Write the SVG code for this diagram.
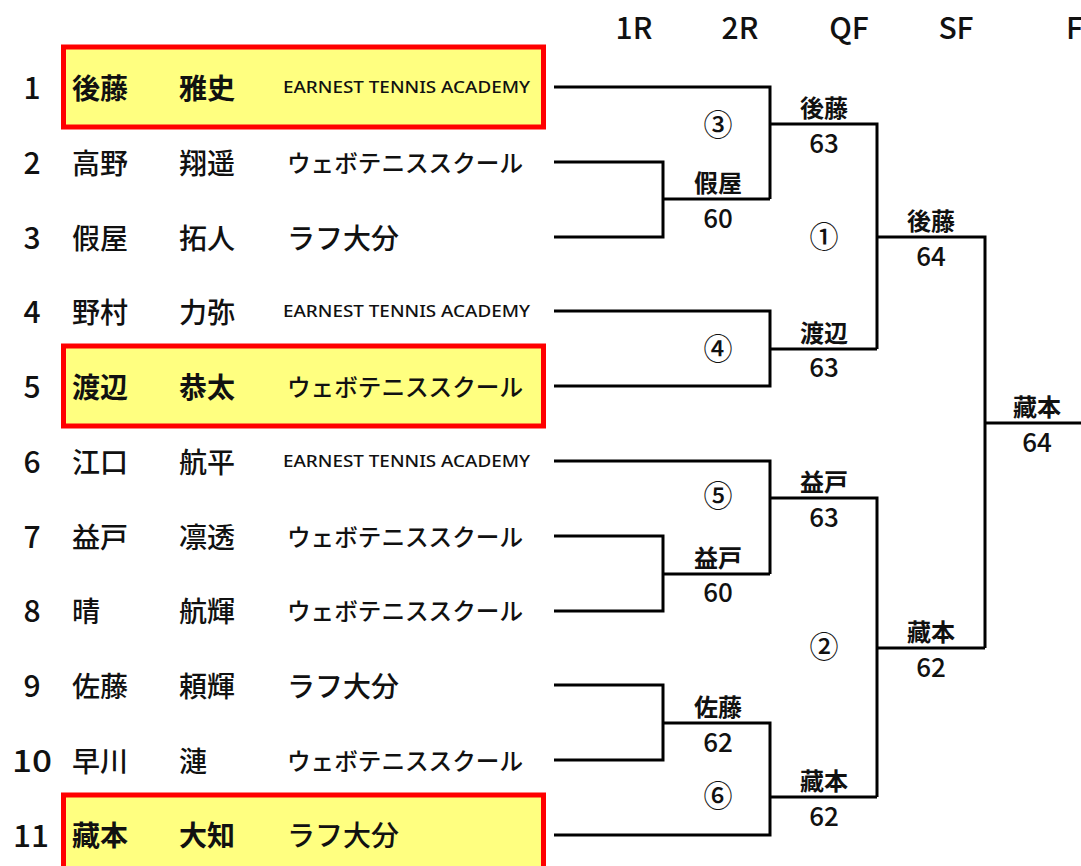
<svg xmlns="http://www.w3.org/2000/svg" width="1081" height="866" viewBox="0 0 1081 866">
<style>
text{font-family:"Noto Sans CJK JP","Noto Sans",sans-serif;fill:#111}
.hd{font-size:30px;font-weight:500;text-anchor:middle}
.no{font-size:30px;font-weight:500;text-anchor:middle}
.nm{font-size:28px;font-weight:500}
.hl .nm{font-weight:700}
.ea{font-family:"Noto Sans","Liberation Sans",sans-serif;font-size:17px;font-weight:500}
.kt{font-size:24px;font-weight:500}
.lf{font-size:28px;font-weight:500}
.box{fill:#FFFF80;stroke:#FF0000;stroke-width:5}
.w{font-size:24px;font-weight:700;text-anchor:middle}
.s{font-size:26px;font-weight:500;text-anchor:middle}
.c{font-size:29px;font-weight:500;text-anchor:middle}
#connectors path{fill:none;stroke:#000;stroke-width:3}
</style>
<rect width="1081" height="866" fill="#fff"/>
<g id="header">
<text class="hd" x="634" y="39">1R</text>
<text class="hd" x="740" y="39">2R</text>
<text class="hd" x="849" y="39">QF</text>
<text class="hd" x="956" y="39">SF</text>
<text class="hd" x="1066" y="39" style="text-anchor:start">F</text>
</g>
<g id="p1" class="hl">
<rect class="box" x="63.5" y="47" width="480" height="80"/>
<text class="no" x="32" y="99">1</text>
<text class="nm" x="72" y="99">後藤</text>
<text class="nm" x="179" y="99">雅史</text>
<text class="ea" x="283" y="93" textLength="247" lengthAdjust="spacingAndGlyphs">EARNEST TENNIS ACADEMY</text>
</g>
<g id="p2">
<text class="no" x="32" y="174">2</text>
<text class="nm" x="72" y="174">高野</text>
<text class="nm" x="179" y="174">翔遥</text>
<text class="kt" x="287" y="172" textLength="236" lengthAdjust="spacingAndGlyphs">ウェボテニススクール</text>
</g>
<g id="p3">
<text class="no" x="32" y="249">3</text>
<text class="nm" x="72" y="249">假屋</text>
<text class="nm" x="179" y="249">拓人</text>
<text class="lf" x="287" y="249">ラフ大分</text>
</g>
<g id="p4">
<text class="no" x="32" y="323">4</text>
<text class="nm" x="72" y="323">野村</text>
<text class="nm" x="179" y="323">力弥</text>
<text class="ea" x="283" y="317" textLength="247" lengthAdjust="spacingAndGlyphs">EARNEST TENNIS ACADEMY</text>
</g>
<g id="p5" class="hl">
<rect class="box" x="63.5" y="346" width="480" height="80"/>
<text class="no" x="32" y="398">5</text>
<text class="nm" x="72" y="398">渡辺</text>
<text class="nm" x="179" y="398">恭太</text>
<text class="kt" x="287" y="396" textLength="236" lengthAdjust="spacingAndGlyphs">ウェボテニススクール</text>
</g>
<g id="p6">
<text class="no" x="32" y="473">6</text>
<text class="nm" x="72" y="473">江口</text>
<text class="nm" x="179" y="473">航平</text>
<text class="ea" x="283" y="467" textLength="247" lengthAdjust="spacingAndGlyphs">EARNEST TENNIS ACADEMY</text>
</g>
<g id="p7">
<text class="no" x="32" y="548">7</text>
<text class="nm" x="72" y="548">益戸</text>
<text class="nm" x="179" y="548">凛透</text>
<text class="kt" x="287" y="546" textLength="236" lengthAdjust="spacingAndGlyphs">ウェボテニススクール</text>
</g>
<g id="p8">
<text class="no" x="32" y="622">8</text>
<text class="nm" x="72" y="622">晴</text>
<text class="nm" x="179" y="622">航輝</text>
<text class="kt" x="287" y="620" textLength="236" lengthAdjust="spacingAndGlyphs">ウェボテニススクール</text>
</g>
<g id="p9">
<text class="no" x="32" y="697">9</text>
<text class="nm" x="72" y="697">佐藤</text>
<text class="nm" x="179" y="697">頼輝</text>
<text class="lf" x="287" y="697">ラフ大分</text>
</g>
<g id="p10">
<text class="no" x="32" y="772" textLength="40" lengthAdjust="spacingAndGlyphs">10</text>
<text class="nm" x="72" y="772">早川</text>
<text class="nm" x="179" y="772">漣</text>
<text class="kt" x="287" y="770" textLength="236" lengthAdjust="spacingAndGlyphs">ウェボテニススクール</text>
</g>
<g id="p11" class="hl">
<rect class="box" x="63.5" y="795" width="480" height="80"/>
<text class="no" x="31" y="847" textLength="36" lengthAdjust="spacingAndGlyphs">11</text>
<text class="nm" x="72" y="846">藏本</text>
<text class="nm" x="179" y="846">大知</text>
<text class="lf" x="287" y="846">ラフ大分</text>
</g>
<g id="connectors">
<path d="M554,87H770V199M554,162H663V237H554M663,199H770M770,124H877V349M554,311H770V386H554M770,349H877M877,237H985V648M985,423H1081"/>
<path d="M554,461H770V574M554,536H663V611H554M663,574H770M770,498H877V797M554,685H663V760H554M663,723H770V835H554M770,797H877M877,648H985"/>
</g>
<g id="results">
<text class="w" x="718" y="192">假屋</text><text class="s" x="718" y="228">60</text>
<text class="w" x="824" y="117">後藤</text><text class="s" x="824" y="153">63</text>
<text class="w" x="824" y="342">渡辺</text><text class="s" x="824" y="377">63</text>
<text class="w" x="931" y="230">後藤</text><text class="s" x="931" y="266">64</text>
<text class="w" x="1037" y="416">藏本</text><text class="s" x="1037" y="452">64</text>
<text class="w" x="824" y="491">益戸</text><text class="s" x="824" y="527">63</text>
<text class="w" x="718" y="567">益戸</text><text class="s" x="718" y="602">60</text>
<text class="w" x="931" y="641">藏本</text><text class="s" x="931" y="677">62</text>
<text class="w" x="718" y="716">佐藤</text><text class="s" x="718" y="752">62</text>
<text class="w" x="824" y="790">藏本</text><text class="s" x="824" y="826">62</text>
</g>
<g id="match-numbers">
<text class="c" x="718" y="136">③</text>
<text class="c" x="824" y="248">①</text>
<text class="c" x="718" y="360">④</text>
<text class="c" x="718" y="507">⑤</text>
<text class="c" x="824" y="658">②</text>
<text class="c" x="718" y="807">⑥</text>
</g>
</svg>
